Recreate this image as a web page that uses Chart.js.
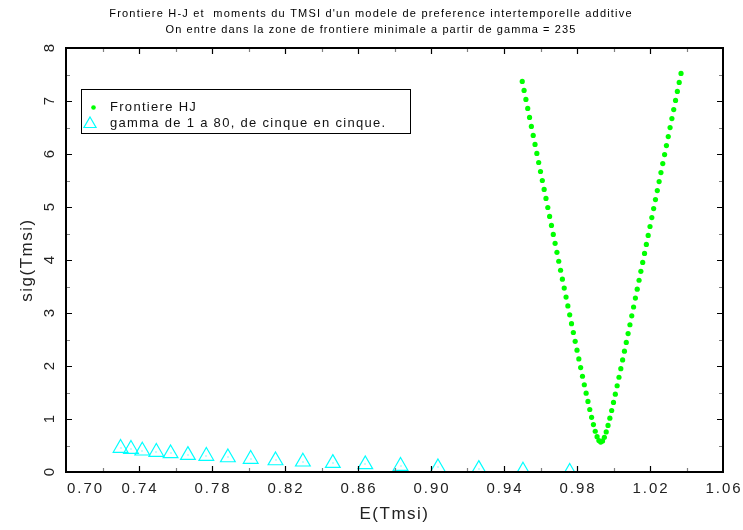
<!DOCTYPE html>
<html>
<head>
<meta charset="utf-8">
<script src="https://cdn.jsdelivr.net/npm/chart.js@4"></script>
<style>
  html, body { margin: 0; padding: 0; background: #ffffff; }
  #wrap { width: 743px; height: 530px; }
</style>
</head>
<body>
<div id="wrap"><canvas id="c" width="743" height="530"></canvas></div>
<script>
// Title lines
const titleLines = [
  "Frontiere H-J et  moments du TMSI d'un modele de preference intertemporelle additive",
  "On entre dans la zone de frontiere minimale a partir de gamma = 235"
];
const xAxisTitle = 'E(Tmsi)';
const yAxisTitle = 'sig(Tmsi)';
const legendLabels = ['Frontiere HJ', 'gamma de 1 a 80, de cinque en cinque.'];

// Hansen-Jagannathan frontier: mean (x) and standard deviation (y)
const frontierMean = [
  0.950, 0.951, 0.952, 0.953, 0.954, 0.955, 0.956, 0.957, 0.958, 0.959,
  0.960, 0.961, 0.962, 0.963, 0.964, 0.965, 0.966, 0.967, 0.968, 0.969,
  0.970, 0.971, 0.972, 0.973, 0.974, 0.975, 0.976, 0.977, 0.978, 0.979,
  0.980, 0.981, 0.982, 0.983, 0.984, 0.985, 0.986, 0.987, 0.988, 0.989,
  0.990, 0.991, 0.992, 0.993, 0.994, 0.995, 0.996, 0.997, 0.998, 0.999,
  1.000, 1.001, 1.002, 1.003, 1.004, 1.005, 1.006, 1.007, 1.008, 1.009,
  1.010, 1.011, 1.012, 1.013, 1.014, 1.015, 1.016, 1.017, 1.018, 1.019,
  1.020, 1.021, 1.022, 1.023, 1.024, 1.025, 1.026, 1.027, 1.028, 1.029,
  1.030, 1.031, 1.032, 1.033, 1.034, 1.035, 1.036, 1.037
];
const frontierSigma = [
  7.370, 7.200, 7.030, 6.860, 6.690, 6.520, 6.350, 6.180, 6.010, 5.840,
  5.670, 5.500, 5.331, 5.161, 4.991, 4.822, 4.653, 4.483, 4.314, 4.145,
  3.976, 3.807, 3.638, 3.470, 3.301, 3.133, 2.966, 2.798, 2.632, 2.465,
  2.299, 2.134, 1.970, 1.807, 1.646, 1.487, 1.331, 1.179, 1.032, 0.894,
  0.769, 0.666, 0.593, 0.565, 0.587, 0.655, 0.756, 0.878, 1.015, 1.160,
  1.312, 1.468, 1.627, 1.788, 1.950, 2.114, 2.279, 2.445, 2.611, 2.778,
  2.946, 3.113, 3.281, 3.449, 3.618, 3.787, 3.955, 4.124, 4.293, 4.463,
  4.632, 4.801, 4.971, 5.141, 5.310, 5.480, 5.650, 5.820, 5.989, 6.159,
  6.329, 6.499, 6.669, 6.839, 7.010, 7.180, 7.350, 7.520
];

// Model moments of the IMRS for gamma from 1 to 80
const gammaMean = [
  0.7299, 0.7356, 0.7418, 0.7495, 0.7573, 0.7668, 0.7769, 0.7887, 0.8012,
  0.8148, 0.8298, 0.8462, 0.8640, 0.8833, 0.9038, 0.9262, 0.9504, 0.9760
];
const gammaSigma = [
  0.452, 0.433, 0.401, 0.376, 0.350, 0.319, 0.301, 0.274, 0.244,
  0.217, 0.193, 0.168, 0.142, 0.112, 0.085, 0.055, 0.023, 0.000
];

// Axis tick labels
const xTickLabels = ['0.70', '0.74', '0.78', '0.82', '0.86', '0.90', '0.94', '0.98', '1.02', '1.06'];
const yTickLabels = ['0', '1', '2', '3', '4', '5', '6', '7', '8'];

const GREEN = '#00ff00';
const CYAN = '#00ffff';
const LABEL_FONT = '"Liberation Sans", Arial, sans-serif';

function pairs(xs, ys) {
  return xs.map((x, i) => ({ x: x, y: ys[i] }));
}

function drawTriangle(ctx, cx, cy, r) {
  ctx.beginPath();
  for (let k = 0; k < 3; k++) {
    const a = k * 2 * Math.PI / 3;
    const px = cx + Math.sin(a) * r;
    const py = cy - Math.cos(a) * r;
    if (k === 0) ctx.moveTo(px, py); else ctx.lineTo(px, py);
  }
  ctx.closePath();
  ctx.stroke();
}

// Frame, inward tick marks, tick labels, titles and legend box
const framePlugin = {
  id: 'frame',
  afterDatasetsDraw(chart) {
    const ctx = chart.ctx;
    // small centre mark inside each triangle
    const meta = chart.getDatasetMeta(1);
    ctx.save();
    ctx.fillStyle = CYAN;
    meta.data.forEach(el => {
      if (el.y < chart.chartArea.bottom - 2) ctx.fillRect(Math.round(el.x) - 0.5, Math.round(el.y) - 0.5, 1, 1);
    });
    ctx.restore();
  },
  afterDraw(chart) {
    const ctx = chart.ctx;
    const a = chart.chartArea;
    const xs = chart.scales.x, ys = chart.scales.y;
    ctx.save();

    // tick marks
    const xMajor = xTickLabels.map(Number);
    const xMinor = [];
    for (let i = 0; i + 1 < xMajor.length; i++) xMinor.push((xMajor[i] + xMajor[i + 1]) / 2);
    const yMajor = yTickLabels.map(Number);
    const yMinor = [];
    for (let i = 0; i + 1 < yMajor.length; i++) yMinor.push((yMajor[i] + yMajor[i + 1]) / 2);

    function vTicks(vals, len, color, width) {
      ctx.strokeStyle = color; ctx.lineWidth = width;
      vals.forEach(v => {
        const px = Math.round(xs.getPixelForValue(v)) + 0.5;
        if (px <= a.left + 1 || px >= a.right - 1) return;
        ctx.beginPath();
        ctx.moveTo(px, a.bottom); ctx.lineTo(px, a.bottom - len);
        ctx.moveTo(px, a.top); ctx.lineTo(px, a.top + len);
        ctx.stroke();
      });
    }
    function hTicks(vals, len, color, width) {
      ctx.strokeStyle = color; ctx.lineWidth = width;
      vals.forEach(v => {
        const py = Math.round(ys.getPixelForValue(v)) + 0.5;
        if (py <= a.top + 1 || py >= a.bottom - 1) return;
        ctx.beginPath();
        ctx.moveTo(a.left, py); ctx.lineTo(a.left + len, py);
        ctx.moveTo(a.right, py); ctx.lineTo(a.right - len, py);
        ctx.stroke();
      });
    }
    vTicks(xMinor, 4, '#808080', 1.2);
    vTicks(xMajor, 6, '#000000', 1.2);
    hTicks(yMinor, 4, '#808080', 1.2);
    hTicks(yMajor, 6, '#000000', 1.2);

    // frame
    ctx.strokeStyle = '#000000';
    ctx.lineWidth = 2;
    ctx.strokeRect(a.left, a.top, a.right - a.left, a.bottom - a.top);

    // x tick labels
    ctx.fillStyle = '#222222';
    ctx.font = '15px ' + LABEL_FONT;
    ctx.letterSpacing = '2px';
    ctx.textBaseline = 'middle';
    xTickLabels.forEach((lab, i) => {
      const px = xs.getPixelForValue(Number(lab));
      if (i === 0) { ctx.textAlign = 'left'; ctx.fillText(lab, px + 1, 489); }
      else { ctx.textAlign = 'center'; ctx.fillText(lab, px + 1, 489); }
    });

    // y tick labels (rotated)
    yTickLabels.forEach(lab => {
      const py = ys.getPixelForValue(Number(lab));
      ctx.save();
      ctx.translate(50, py);
      ctx.rotate(-Math.PI / 2);
      ctx.textAlign = 'center';
      ctx.fillText(lab, 1, 0);
      ctx.restore();
    });

    // axis titles
    ctx.font = '17px ' + LABEL_FONT;
    ctx.letterSpacing = '1.5px';
    ctx.textAlign = 'center';
    ctx.fillText(xAxisTitle, (a.left + a.right) / 2, 514);
    ctx.save();
    ctx.translate(27, (a.top + a.bottom) / 2);
    ctx.rotate(-Math.PI / 2);
    ctx.fillText(yAxisTitle, 0, 0);
    ctx.restore();

    // chart title
    ctx.fillStyle = '#000000';
    ctx.font = '11px ' + LABEL_FONT;
    ctx.letterSpacing = '1.2px';
    ctx.fillText(titleLines[0], 371, 14);
    ctx.letterSpacing = '1.1px';
    ctx.fillText(titleLines[1], 371, 30);

    // legend
    ctx.letterSpacing = '0px';
    ctx.strokeStyle = '#000000';
    ctx.lineWidth = 1;
    ctx.strokeRect(81.5, 89.5, 329, 44);
    ctx.fillStyle = GREEN;
    ctx.beginPath(); ctx.arc(93.5, 107.5, 2.3, 0, Math.PI * 2); ctx.fill();
    ctx.strokeStyle = CYAN;
    ctx.lineWidth = 1.2;
    drawTriangle(ctx, 90, 124, 7);
    ctx.fillStyle = '#111111';
    ctx.font = '13px ' + LABEL_FONT;
    ctx.letterSpacing = '1.3px';
    ctx.textAlign = 'left';
    ctx.fillText(legendLabels[0], 110, 107.5);
    ctx.fillText(legendLabels[1], 110, 123);
    ctx.restore();
  }
};

new Chart(document.getElementById('c'), {
  type: 'scatter',
  data: {
    datasets: [
      {
        label: legendLabels[0],
        data: pairs(frontierMean, frontierSigma),
        pointStyle: 'circle',
        pointRadius: 2.6,
        pointBorderWidth: 0,
        backgroundColor: GREEN,
        borderColor: GREEN,
        showLine: false
      },
      {
        label: legendLabels[1],
        data: pairs(gammaMean, gammaSigma),
        pointStyle: 'triangle',
        pointRadius: 8.5,
        pointBorderWidth: 1.2,
        backgroundColor: 'rgba(0,0,0,0)',
        borderColor: CYAN,
        showLine: false,
        clip: 0
      }
    ]
  },
  options: {
    responsive: false,
    devicePixelRatio: 1,
    animation: false,
    layout: { padding: { left: 66, right: 20, top: 48, bottom: 58 } },
    scales: {
      x: { type: 'linear', min: 0.70, max: 1.06, display: false },
      y: { type: 'linear', min: 0, max: 8, display: false }
    },
    plugins: {
      legend: { display: false },
      title: { display: false },
      tooltip: { enabled: false }
    }
  },
  plugins: [framePlugin]
});
</script>
</body>
</html>
